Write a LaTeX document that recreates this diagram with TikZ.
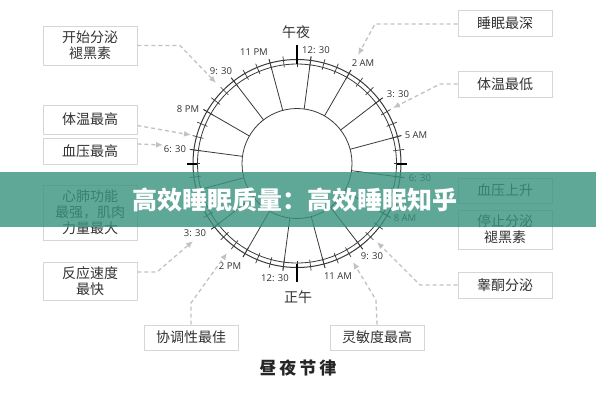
\documentclass[tikz,border=0pt]{standalone}
\usepackage{fontspec}
\setmainfont{Open Sans}
\newfontfamily\cjk{Noto Sans CJK SC}
\usetikzlibrary{arrows.meta}
\definecolor{boxline}{HTML}{D6D6D6}
\definecolor{txt}{HTML}{333333}
\definecolor{dashc}{HTML}{C2C2C2}
\definecolor{band}{HTML}{38927E}
\definecolor{ringc}{HTML}{3A3A3A}
\begin{document}
\begin{tikzpicture}[x=1pt,y=-1pt,
  infobox/.style={draw=boxline, line width=0.8pt, fill=white, text=txt,
    font=\cjk\fontsize{14}{16}\selectfont, align=center, minimum width=94pt, inner sep=0pt},
  conn/.style={draw=dashc, line width=1.3pt, dash pattern=on 4pt off 3pt,
    -{Latex[length=7pt,width=6pt]}},
  tlabel/.style={font=\fontsize{9.5}{11}\selectfont, text=txt, inner sep=0pt},
  spoke/.style={draw=ringc, line width=0.8pt},
  cardinal/.style={draw=black, line width=2pt},
  cjklabel/.style={font=\cjk\fontsize{14}{16}\selectfont, text=txt, inner sep=0pt}]
\fill[white] (0,0) rectangle (596,400);
\useasboundingbox (0,0) rectangle (596,400);

% ring
\begin{scope}[shift={(297,163.5)}]
  \draw[ringc, line width=1pt] (0,0) circle[radius=104pt];
  \draw[ringc, line width=0.8pt] (0,0) circle[radius=99.5pt];
  \draw[ringc, line width=0.8pt] (0,0) circle[radius=55pt];
  \foreach \k in {0,...,15}
    \draw[spoke] ({7.5+22.5*\k-90}:55) -- ({7.5+22.5*\k-90}:108);
  \foreach \k in {0,...,47}
    \draw[ringc, line width=0.7pt] ({7.5*\k-90}:97) -- ({7.5*\k-90}:108);
  \draw[cardinal] (0,-100) -- (0,-118.5);
  \draw[cardinal] (0,100) -- (0,118.5);
  \draw[cardinal] (-100,0) -- (-110,0);
  \draw[cardinal] (100,0) -- (110,0);
\end{scope}

% time labels
\node[tlabel] (t1) at (316,50) {12: 30};
\node[tlabel] (t2) at (363,63) {2 AM};
\node[tlabel] (t3) at (398,94) {3: 30};
\node[tlabel] (t4) at (416,135) {5 AM};
\node[tlabel] (t5) at (420,178) {6: 30};
\node[tlabel] (t6) at (405,218) {8 AM};
\node[tlabel] (t7) at (372,256) {9: 30};
\node[tlabel] (t8) at (338,276) {11 AM};
\node[tlabel] (t9) at (275,278) {12: 30};
\node[tlabel] (t10) at (230,266) {2 PM};
\node[tlabel] (t11) at (195,233) {3: 30};
\node[tlabel] (t13) at (175,149) {6: 30};
\node[tlabel] (t14) at (188,109) {8 PM};
\node[tlabel] (t15) at (221,71) {9: 30};
\node[tlabel] (t16) at (254,52) {11 PM};

\node[cjklabel] (mid) at (296,32) {午夜};
\node[cjklabel] (noon) at (298,297) {正午};

% boxes left
\node[infobox, minimum height=39pt] (b1) at (90,45.5) {开始分泌\\褪黑素};
\node[infobox, minimum height=29pt] (b2) at (90,119.5) {体温最高};
\node[infobox, minimum height=26pt] (b3) at (90,151) {血压最高};
\node[infobox, minimum height=55pt] (b4) at (90,212.5) {心肺功能\\最强，肌肉\\力量最大};
\node[infobox, minimum height=38pt] (b5) at (90,281) {反应速度\\最快};
% boxes bottom
\node[infobox, minimum height=25pt] (b6) at (191,337.5) {协调性最佳};
\node[infobox, minimum height=25pt] (b7) at (377,337.5) {灵敏度最高};
% boxes right
\node[infobox, minimum height=26pt] (r1) at (505,23) {睡眠最深};
\node[infobox, minimum height=26pt] (r2) at (505,84) {体温最低};
\node[infobox, minimum height=25pt] (r3) at (505,190.5) {血压上升};
\node[infobox, minimum height=39pt] (r4) at (505,229.5) {停止分泌\\褪黑素};
\node[infobox, minimum height=26pt] (r5) at (505,285) {睾酮分泌};

% connector points
\coordinate (k1) at (180,45.5);  \coordinate (a1) at (216,83);
\coordinate (a2) at (191,135);
\coordinate (a3) at (163,145);
\coordinate (k5) at (157,272);   \coordinate (a5) at (193,241);
\coordinate (k6) at (191,303);   \coordinate (a6) at (227,253);
\coordinate (k7) at (376,300);   \coordinate (a7) at (353,262);
\coordinate (k8) at (420,285);   \coordinate (a8) at (377,242);
\coordinate (k9) at (440,84);    \coordinate (a9) at (393,108);
\coordinate (k10) at (375,24);   \coordinate (a10) at (358,55);

\draw[conn] (b1.east) -- (k1) -- (a1);
\draw[conn] ([yshift=-6pt]b2.east) -- (a2);
\draw[conn] ([yshift=7pt]b3.east) -- (a3);
\draw[conn] ([yshift=9pt]b5.east) -- (k5) -- (a5);
\draw[conn] (b6.north) -- (k6) -- (a6);
\draw[conn] (b7.north) -- (k7) -- (a7);
\draw[conn] (r5.west) -- (k8) -- (a8);
\draw[conn] (r2.west) -- (k9) -- (a9);
\draw[conn] ([yshift=-1pt]r1.west) -- (k10) -- (a10);

% title
\node[font=\cjk\bfseries\fontsize{17}{20}\selectfont, text=black!85] (title) at (298,368)
  {昼\hspace{3pt}夜\hspace{3pt}节\hspace{3pt}律};

% banner
\fill[band, opacity=0.8] (0,172) rectangle (596,227);
\node[font=\cjk\bfseries\fontsize{25}{28}\selectfont, text=white, inner sep=0pt] (bt) at (295,200)
  {高效睡眠质量：高效睡眠知乎};
\end{tikzpicture}
\end{document}
